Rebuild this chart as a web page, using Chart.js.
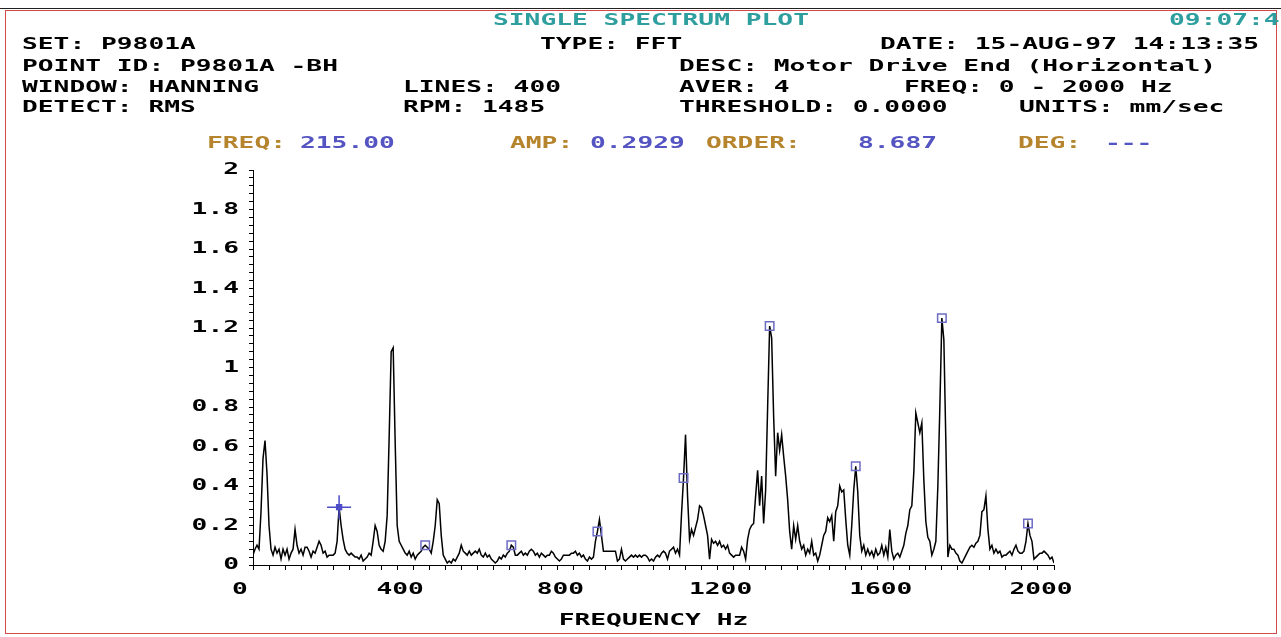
<!DOCTYPE html>
<html>
<head>
<meta charset="utf-8">
<script src="https://cdn.jsdelivr.net/npm/chart.js@4.4.1/dist/chart.umd.min.js"></script>
<style>
  html, body { margin: 0; padding: 0; background: #fff; overflow: hidden; }
  #page { position: relative; width: 1281px; height: 637px; overflow: hidden; }
  #plot { position: absolute; left: 0; top: 0; width: 1281px; height: 637px; }
  .frame { position: absolute; left: 5px; top: 10px; width: 1270px; height: 622px; border: 1px solid #d24a4a; }
  .topline { position: absolute; left: 0; top: 8px; width: 1281px; height: 1px; background: #222; }
  .t { position: absolute; font: bold 16px 'DejaVu Sans Mono', monospace; line-height: 16px;
       white-space: pre; transform: scaleX(1.64); transform-origin: 0 0; color: #000; }
  .teal { color: #2e9e9e; }
  .lab { color: #b5842c; }
  .val { color: #5454c2; }
</style>
</head>
<body>
<div id="page">
  <div class="topline"></div>
  <div class="frame"></div>
  <div id="plot"><canvas id="spectrumChart"></canvas></div>

  <div class="t teal" style="left:493px;top:12px">SINGLE SPECTRUM PLOT</div>
  <div class="t teal" style="left:1169px;top:12px">09:07:49</div>

  <div class="t" style="left:22px;top:36px">SET: P9801A</div>
  <div class="t" style="left:540px;top:36px">TYPE: FFT</div>
  <div class="t" style="left:880px;top:36px">DATE: 15-AUG-97 14:13:35</div>

  <div class="t" style="left:22px;top:58px">POINT ID: P9801A -BH</div>
  <div class="t" style="left:679px;top:58px">DESC: Motor Drive End (Horizontal)</div>

  <div class="t" style="left:22px;top:79px">WINDOW: HANNING</div>
  <div class="t" style="left:403px;top:79px">LINES: 400</div>
  <div class="t" style="left:679px;top:79px">AVER: 4</div>
  <div class="t" style="left:904px;top:79px">FREQ: 0 - 2000 Hz</div>

  <div class="t" style="left:22px;top:99px">DETECT: RMS</div>
  <div class="t" style="left:403px;top:99px">RPM: 1485</div>
  <div class="t" style="left:679px;top:99px">THRESHOLD: 0.0000</div>
  <div class="t" style="left:1019px;top:99px">UNITS: mm/sec</div>

  <div class="t lab" style="left:207px;top:135px">FREQ:</div>
  <div class="t val" style="left:300px;top:135px">215.00</div>
  <div class="t lab" style="left:510px;top:135px">AMP:</div>
  <div class="t val" style="left:590px;top:135px">0.2929</div>
  <div class="t lab" style="left:706px;top:135px">ORDER:</div>
  <div class="t val" style="left:858px;top:135px">8.687</div>
  <div class="t lab" style="left:1018px;top:135px">DEG:</div>
  <div class="t val" style="left:1105px;top:135px">---</div>
</div>

<script>
// 400 lines, 0 - 2000 Hz (5 Hz per line), amplitudes in mm/sec
const freqMax = 2000;
const lineCount = 400;

const amp0to395 = [
  0.05,0.08,0.1,0.08,0.27,0.54,0.63,0.46,0.2,0.08, 0.05,0.09,0.06,0.08,0.03,0.08,0.05,0.08,0.03,0.06,
  0.08,0.18,0.1,0.06,0.08,0.05,0.09,0.09,0.07,0.04, 0.07,0.06,0.09,0.12,0.1,0.06,0.07,0.04,0.05,0.05,
  0.05,0.06,0.12,0.2929,0.2,0.13,0.08,0.06,0.05,0.06, 0.05,0.04,0.04,0.03,0.05,0.02,0.03,0.04,0.06,0.05,
  0.12,0.2,0.17,0.1,0.08,0.07,0.12,0.25,0.65,1.08, 1.1,0.62,0.2,0.12,0.1,0.08,0.06,0.05,0.07,0.04
];
const amp400to795 = [
  0.06,0.03,0.05,0.06,0.07,0.09,0.1,0.09,0.08,0.06, 0.12,0.2,0.33,0.31,0.15,0.05,0.03,0.01,0.02,0.01,
  0.03,0.02,0.04,0.06,0.1,0.07,0.06,0.05,0.07,0.05, 0.06,0.07,0.06,0.08,0.05,0.04,0.06,0.04,0.05,0.03,
  0.02,0.01,0.02,0.04,0.03,0.05,0.04,0.06,0.07,0.1, 0.09,0.05,0.05,0.06,0.07,0.05,0.06,0.05,0.07,0.08,
  0.07,0.05,0.06,0.04,0.06,0.05,0.04,0.05,0.05,0.07, 0.06,0.04,0.03,0.02,0.03,0.05,0.05,0.05,0.05,0.06
];
const amp800to1195 = [
  0.06,0.07,0.05,0.06,0.04,0.05,0.03,0.02,0.04,0.03, 0.04,0.12,0.17,0.23,0.15,0.07,0.07,0.07,0.07,0.07,
  0.07,0.07,0.02,0.03,0.08,0.03,0.02,0.03,0.04,0.05, 0.04,0.05,0.04,0.05,0.04,0.05,0.05,0.04,0.02,0.03,
  0.02,0.04,0.05,0.04,0.06,0.07,0.06,0.03,0.07,0.08, 0.09,0.06,0.08,0.05,0.26,0.44,0.66,0.35,0.13,0.18,
  0.15,0.19,0.23,0.3,0.29,0.25,0.2,0.15,0.03,0.13, 0.11,0.12,0.1,0.12,0.09,0.1,0.08,0.1,0.06,0.05
];
const amp1200to1595 = [
  0.04,0.05,0.05,0.05,0.09,0.07,0.03,0.13,0.18,0.2, 0.21,0.35,0.48,0.3,0.45,0.21,0.38,0.8,1.21,1.15,
  0.75,0.45,0.67,0.58,0.66,0.55,0.45,0.33,0.17,0.08, 0.2,0.13,0.2,0.12,0.08,0.1,0.05,0.08,0.06,0.12,
  0.05,0.06,0.02,0.05,0.1,0.15,0.17,0.24,0.22,0.25, 0.12,0.27,0.3,0.4,0.37,0.38,0.23,0.1,0.05,0.2,
  0.38,0.5,0.37,0.15,0.07,0.1,0.05,0.08,0.05,0.07, 0.04,0.08,0.05,0.06,0.1,0.05,0.09,0.04,0.18,0.07
];
const amp1600to2000 = [
  0.03,0.05,0.06,0.04,0.07,0.1,0.16,0.2,0.28,0.3, 0.47,0.77,0.72,0.67,0.72,0.43,0.22,0.14,0.12,0.05,
  0.08,0.12,0.4,0.8,1.25,1.14,0.62,0.04,0.1,0.08, 0.08,0.06,0.05,0.02,0.01,0.03,0.05,0.07,0.09,0.1,
  0.09,0.11,0.12,0.15,0.27,0.28,0.35,0.18,0.08,0.1, 0.06,0.08,0.06,0.07,0.04,0.05,0.05,0.06,0.07,0.05,
  0.08,0.1,0.07,0.06,0.06,0.07,0.12,0.21,0.15,0.12, 0.03,0.04,0.05,0.06,0.06,0.07,0.06,0.05,0.03,0.04,
  0.01
];

// cursor and its harmonic markers
const cursorFreq = 215.0;
const cursorAmp = 0.2929;
const harmonicFreqs = [430, 645, 860, 1075, 1290, 1505, 1720, 1935];
const harmonicAmps = [0.1, 0.1, 0.17, 0.44, 1.21, 0.5, 1.25, 0.21];

// axis labels
const xTickLabels = ['0', '400', '800', '1200', '1600', '2000'];
const yTickLabels = ['0', '0.2', '0.4', '0.6', '0.8', '1', '1.2', '1.4', '1.6', '1.8', '2'];
const xMajorTicks = [0, 200, 400, 600, 800, 1000, 1200, 1400, 1600, 1800, 2000];
const yMajorTicks = [0, 0.2, 0.4, 0.6, 0.8, 1, 1.2, 1.4, 1.6, 1.8, 2];

const amps = [].concat(amp0to395, amp400to795, amp800to1195, amp1200to1595, amp1600to2000);
const spectrum = amps.map((v, i) => ({ x: i * freqMax / lineCount, y: v }));
const harmonics = harmonicFreqs.map((f, i) => ({ x: f, y: harmonicAmps[i] }));

const FONT = { family: "'DejaVu Sans Mono', monospace", size: 16, weight: 'bold' };

// the old DOS screen font is much wider than DejaVu Sans Mono, so stretch canvas text
const TEXT_STRETCH = 1.64;
function stretchText(ctx) {
  const fill = ctx.fillText.bind(ctx);
  const measure = ctx.measureText.bind(ctx);
  ctx.fillText = function(text, x, y) {
    ctx.save();
    ctx.translate(x, y);
    ctx.scale(TEXT_STRETCH, 1);
    fill(text, 0, 0);
    ctx.restore();
  };
  ctx.measureText = function(text) {
    const m = measure(text);
    return {
      width: m.width * TEXT_STRETCH,
      actualBoundingBoxAscent: m.actualBoundingBoxAscent,
      actualBoundingBoxDescent: m.actualBoundingBoxDescent
    };
  };
}

// box round the plot and the longer major tick marks
const plotFrame = {
  id: 'plotFrame',
  afterDraw(chart) {
    const { ctx, chartArea: a, scales } = chart;
    ctx.save();
    ctx.strokeStyle = '#000';
    ctx.lineWidth = 1;
    ctx.strokeRect(Math.round(a.left) + 0.5, Math.round(a.top) + 0.5,
                   Math.round(a.width), Math.round(a.height));
    ctx.beginPath();
    xMajorTicks.forEach(v => {
      const px = Math.round(scales.x.getPixelForValue(v)) + 0.5;
      ctx.moveTo(px, a.bottom);
      ctx.lineTo(px, a.bottom + 9);
    });
    yMajorTicks.forEach(v => {
      const py = Math.round(scales.y.getPixelForValue(v)) + 0.5;
      ctx.moveTo(a.left, py);
      ctx.lineTo(a.left - 8, py);
    });
    ctx.stroke();
    ctx.restore();
  }
};

document.addEventListener('DOMContentLoaded', function() {
  const ctx = document.getElementById('spectrumChart').getContext('2d');
  stretchText(ctx);
  new Chart(ctx, {
    type: 'line',
    data: {
      datasets: [{
        label: 'Spectrum',
        data: spectrum,
        borderColor: '#000',
        borderWidth: 1.5,
        pointRadius: 0,
        tension: 0,
        order: 1
      }, {
        label: 'Harmonics',
        data: harmonics,
        showLine: false,
        pointStyle: 'rect',
        pointRadius: 6,
        pointBorderWidth: 1.5,
        pointBorderColor: '#6c6cc4',
        pointBackgroundColor: 'rgba(255,255,255,0)',
        order: 0
      }, {
        label: 'Cursor',
        data: [{ x: cursorFreq, y: cursorAmp }],
        showLine: false,
        pointStyle: 'cross',
        pointRadius: 12,
        pointBorderWidth: 1.5,
        pointBorderColor: '#4d4dc8',
        order: 0
      }, {
        label: 'Cursor dot',
        data: [{ x: cursorFreq, y: cursorAmp }],
        showLine: false,
        pointStyle: 'rect',
        pointRadius: 4.5,
        pointBorderWidth: 0,
        pointBackgroundColor: '#4d4dc8',
        order: 0
      }]
    },
    options: {
      responsive: true,
      maintainAspectRatio: false,
      animation: false,
      events: [],
      layout: { padding: { top: 170, right: 227, bottom: 0, left: 0 } },
      plugins: { legend: { display: false }, tooltip: { enabled: false } },
      scales: {
        x: {
          type: 'linear',
          min: 0,
          max: freqMax,
          afterFit: s => { s.height = 72; },
          ticks: {
            stepSize: 40,
            autoSkip: false,
            maxRotation: 0,
            padding: 10,
            labelOffset: -13,
            color: '#000',
            font: FONT,
            callback: (v, i) => (i % 10 === 0 ? xTickLabels[i / 10] : '')
          },
          grid: { drawOnChartArea: false, tickLength: 5, color: '#000', tickColor: '#000' },
          border: { color: '#000', width: 1 },
          title: {
            display: true,
            text: 'FREQUENCY Hz',
            color: '#000',
            font: FONT,
            padding: { top: 0, bottom: 7 }
          }
        },
        y: {
          min: 0,
          max: 2,
          afterFit: s => { s.width = 253; },
          ticks: {
            stepSize: 0.04,
            autoSkip: false,
            padding: 10,
            color: '#000',
            font: FONT,
            callback: (v, i) => (i % 5 === 0 ? yTickLabels[i / 5] : '')
          },
          grid: { drawOnChartArea: false, tickLength: 4, color: '#000', tickColor: '#000' },
          border: { color: '#000', width: 1 }
        }
      }
    }
  });
});
</script>
</body>
</html>
